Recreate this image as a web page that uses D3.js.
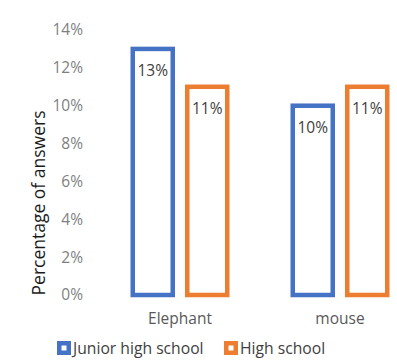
<!DOCTYPE html>
<html>
<head>
<meta charset="utf-8">
<script src="https://cdn.jsdelivr.net/npm/d3@7"></script>
<style>
  html, body { margin: 0; padding: 0; background: #fff; }
  svg { display: block; font-family: "Open Sans", "DejaVu Sans", sans-serif; }
</style>
</head>
<body>
<svg id="chart" width="397" height="361"></svg>
<script>
// Share of answers per animal, by school level (percent)
const categories = ["Elephant", "mouse"];
const series = ["Junior high school", "High school"];
const juniorHigh = [13, 10];
const highSchool = [11, 11];
const yTicks = [0, 2, 4, 6, 8, 10, 12, 14];
const colors = ["#4472C4", "#ED7D31"];

const values = [juniorHigh, highSchool];
const rows = categories.map((c, i) => ({
  category: c,
  bars: series.map((s, j) => ({ series: s, value: values[j][i], color: colors[j] }))
}));

const svg = d3.select("#chart");

const y = d3.scaleLinear().domain([0, 14]).range([295, 30]);
const x0 = d3.scaleBand().domain(categories).range([100, 420]).padding(0);
const x1 = d3.scaleBand().domain(series)
  .range([32.75, 127.25]).paddingInner(0.266).paddingOuter(0);

// y axis: labels only
const yAxis = d3.axisLeft(y).tickValues(yTicks).tickFormat(d => d + "%").tickSize(0).tickPadding(0);
const gy = svg.append("g").attr("transform", "translate(83,0)").call(yAxis);
gy.select(".domain").remove();
gy.selectAll("text").attr("fill", "#7f7f7f").style("font-size", "15.5px")
  .style("font-family", "'Open Sans', sans-serif");

// x axis: category names only
const xAxis = d3.axisBottom(x0).tickSize(0).tickPadding(0);
const gx = svg.append("g").attr("transform", "translate(0,313)").call(xAxis);
gx.select(".domain").remove();
gx.selectAll("text").attr("fill", "#595959").style("font-size", "15.5px")
  .style("font-family", "'Open Sans', sans-serif");

// y axis title
svg.append("text")
  .attr("transform", "translate(45,203) rotate(-90)")
  .attr("text-anchor", "middle")
  .attr("fill", "#1a1a1a")
  .style("font-size", "17.5px")
  .text("Percentage of answers");

// outlined bars
const groups = svg.selectAll("g.cat").data(rows).join("g")
  .attr("class", "cat")
  .attr("transform", d => `translate(${x0(d.category)},0)`);

groups.selectAll("rect").data(d => d.bars).join("rect")
  .attr("x", d => x1(d.series))
  .attr("width", x1.bandwidth())
  .attr("y", d => y(d.value))
  .attr("height", d => y(0) - y(d.value))
  .attr("fill", "#fff")
  .attr("stroke", d => d.color)
  .attr("stroke-width", 4.5);

groups.selectAll("text.val").data(d => d.bars).join("text")
  .attr("class", "val")
  .attr("x", d => x1(d.series) + x1.bandwidth() / 2)
  .attr("y", d => y(d.value) + 27)
  .attr("text-anchor", "middle")
  .attr("fill", "#404040")
  .style("font-size", "15.5px")
  .text(d => d.value + "%");

// legend
const legendX = [57, 224];
const legend = svg.selectAll("g.leg").data(series).join("g")
  .attr("class", "leg")
  .attr("transform", (d, i) => `translate(${legendX[i]},341)`);
legend.append("rect")
  .attr("x", 2.25).attr("y", 2.25).attr("width", 9.5).attr("height", 9.5)
  .attr("fill", "#fff")
  .attr("stroke", (d, i) => colors[i])
  .attr("stroke-width", 4.5);
legend.append("text")
  .attr("x", 16).attr("y", 13)
  .attr("fill", "#404040")
  .style("font-size", "15.7px")
  .text(d => d);
</script>
</body>
</html>
